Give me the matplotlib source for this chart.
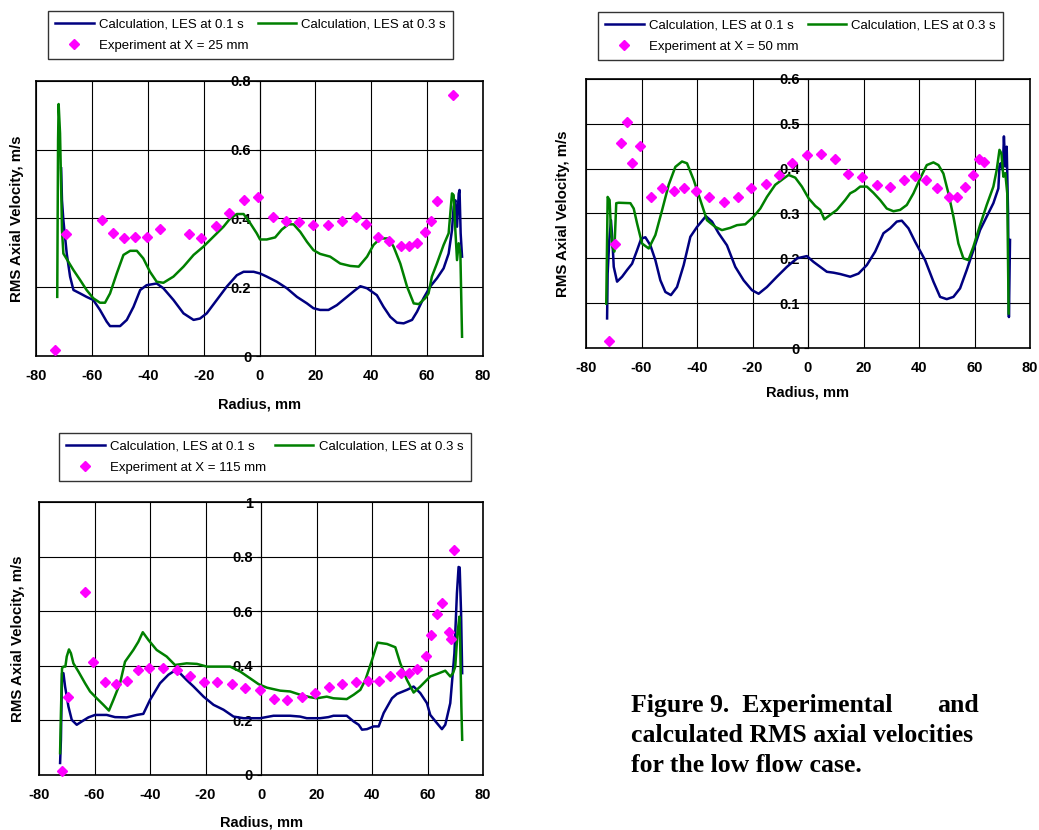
import numpy as np
import matplotlib

matplotlib.use("Agg")
import matplotlib.pyplot as plt
from matplotlib.lines import Line2D

plt.rcParams["font.family"] = ["Liberation Sans", "DejaVu Sans"]
plt.rcParams["axes.unicode_minus"] = False

# ---- X = 25 mm ----
exp25_r = [-73.2, -69.4, -56.5, -52.3, -48.4, -44.5, -40.4, -35.5, -25.4, -20.8,
           -15.4, -10.9, -5.4, -0.6, 4.8, 9.4, 14.2, 19.3, 24.4, 29.5, 34.4, 38.2,
           42.4, 46.3, 50.5, 53.5, 56.4, 59.2, 61.3, 63.5, 69.3]
exp25_v = [0.017, 0.354, 0.397, 0.359, 0.343, 0.347, 0.347, 0.369, 0.354, 0.343,
           0.377, 0.415, 0.455, 0.463, 0.404, 0.393, 0.390, 0.380, 0.380, 0.393,
           0.404, 0.385, 0.346, 0.334, 0.320, 0.320, 0.330, 0.362, 0.393, 0.451, 0.758]
les1_25_r = [-71.0, -70.7, -70.2, -69.0, -67.8, -66.6, -64.2, -61.9, -59.5, -57.1,
             -54.7, -53.5, -49.9, -47.5, -45.1, -42.7, -40.4, -36.8, -34.4, -30.8,
             -27.2, -23.6, -21.3, -18.9, -15.3, -11.7, -8.1, -5.7, -2.1, 0.2, 2.6,
             6.2, 9.8, 13.4, 17.0, 19.3, 21.7, 24.7, 27.7, 31.3, 34.3, 36.1, 38.5,
             42.0, 44.4, 46.8, 49.2, 51.6, 54.6, 56.4, 58.7, 61.1, 63.5, 65.9, 67.7,
             68.9, 69.5, 70.1, 70.7, 71.3, 71.6, 72.0, 72.5]
les1_25_v = [0.546, 0.453, 0.395, 0.298, 0.231, 0.192, 0.182, 0.172, 0.163, 0.134,
             0.100, 0.087, 0.087, 0.105, 0.143, 0.192, 0.206, 0.211, 0.197, 0.163,
             0.124, 0.105, 0.109, 0.124, 0.163, 0.202, 0.235, 0.245, 0.245, 0.240,
             0.231, 0.216, 0.197, 0.172, 0.153, 0.139, 0.134, 0.134, 0.148, 0.172,
             0.192, 0.203, 0.197, 0.177, 0.143, 0.114, 0.097, 0.095, 0.105, 0.129,
             0.168, 0.202, 0.226, 0.255, 0.298, 0.366, 0.434, 0.453, 0.376, 0.472,
             0.483, 0.357, 0.289]
les3_25_r = [-72.4, -72.1, -71.9, -71.4, -70.9, -70.7, -70.2, -66.6, -64.2, -61.9,
             -59.5, -57.1, -55.3, -53.5, -51.1, -48.7, -46.3, -43.9, -41.6, -39.2,
             -36.8, -34.4, -30.8, -27.2, -23.6, -20.1, -16.5, -12.9, -10.5, -8.1,
             -5.7, -3.3, -1.0, 0.2, 2.6, 5.6, 8.0, 10.4, 12.2, 14.6, 17.0, 19.3,
             21.7, 25.3, 28.9, 32.5, 35.5, 38.5, 40.8, 43.2, 46.2, 48.0, 50.4, 52.8,
             55.2, 57.0, 59.3, 60.5, 61.7, 63.5, 65.9, 67.7, 68.9, 69.5, 70.1, 70.7,
             71.3, 71.9, 72.5]
les3_25_v = [0.172, 0.628, 0.733, 0.648, 0.453, 0.366, 0.298, 0.250, 0.221, 0.192,
             0.168, 0.155, 0.155, 0.182, 0.240, 0.294, 0.306, 0.306, 0.284, 0.245,
             0.216, 0.213, 0.231, 0.260, 0.294, 0.318, 0.347, 0.376, 0.400, 0.413,
             0.413, 0.386, 0.357, 0.339, 0.339, 0.345, 0.368, 0.383, 0.383, 0.361,
             0.332, 0.308, 0.297, 0.289, 0.269, 0.262, 0.260, 0.289, 0.323, 0.342,
             0.342, 0.318, 0.269, 0.202, 0.153, 0.151, 0.168, 0.182, 0.231, 0.269,
             0.323, 0.357, 0.473, 0.468, 0.366, 0.279, 0.328, 0.298, 0.056]

# ---- X = 50 mm ----
exp50_r = [-71.6, -69.7, -67.3, -65.4, -63.4, -60.6, -56.4, -52.6, -48.4, -44.6,
           -40.4, -35.6, -30.4, -25.3, -20.5, -15.3, -10.6, -5.6, -0.3, 4.6, 9.7,
           14.3, 19.5, 24.8, 29.6, 34.6, 38.6, 42.7, 46.4, 50.7, 53.7, 56.4, 59.6,
           61.8, 63.6]
exp50_v = [0.015, 0.231, 0.457, 0.503, 0.413, 0.451, 0.336, 0.357, 0.351, 0.357,
           0.351, 0.336, 0.325, 0.336, 0.357, 0.366, 0.386, 0.413, 0.431, 0.433,
           0.422, 0.389, 0.381, 0.363, 0.360, 0.374, 0.383, 0.374, 0.357, 0.336,
           0.336, 0.360, 0.386, 0.422, 0.415]
les1_50_r = [-72.4, -72.2, -71.6, -71.0, -70.5, -70.0, -68.8, -67.0, -65.2, -63.4,
             -61.6, -60.1, -58.6, -56.8, -55.0, -53.2, -51.4, -49.4, -47.2, -44.8,
             -42.4, -40.0, -36.8, -34.6, -32.2, -29.2, -26.2, -23.2, -20.2, -17.8,
             -14.8, -11.2, -7.6, -4.0, -0.4, 2.0, 4.4, 6.8, 9.2, 11.6, 15.2, 18.2,
             21.2, 24.2, 27.2, 29.6, 32.0, 33.8, 36.2, 38.6, 42.2, 45.2, 47.6, 50.0,
             52.4, 54.8, 57.2, 59.6, 62.0, 64.4, 66.8, 68.6, 69.0, 69.4, 70.2, 70.6,
             71.1, 71.6, 72.1, 72.4, 72.8]
les1_50_v = [0.066, 0.166, 0.241, 0.285, 0.241, 0.181, 0.148, 0.159, 0.174, 0.188,
             0.218, 0.244, 0.247, 0.229, 0.196, 0.151, 0.125, 0.118, 0.136, 0.185,
             0.248, 0.270, 0.294, 0.282, 0.256, 0.229, 0.181, 0.151, 0.129, 0.121,
             0.136, 0.159, 0.181, 0.200, 0.205, 0.192, 0.181, 0.170, 0.168, 0.165,
             0.159, 0.166, 0.185, 0.215, 0.256, 0.267, 0.282, 0.284, 0.267, 0.237,
             0.196, 0.148, 0.114, 0.109, 0.114, 0.133, 0.174, 0.218, 0.263, 0.293,
             0.323, 0.356, 0.405, 0.412, 0.397, 0.472, 0.405, 0.449, 0.300, 0.069,
             0.241]
les3_50_r = [-72.7, -72.2, -71.5, -71.0, -70.5, -69.8, -69.1, -68.2, -64.0, -62.8,
             -61.6, -59.8, -57.4, -55.0, -52.6, -50.2, -47.8, -45.4, -43.6, -41.2,
             -38.8, -36.4, -33.4, -31.0, -28.0, -25.6, -22.6, -19.6, -17.2, -14.8,
             -11.8, -8.8, -7.0, -4.6, -2.2, 0.2, 2.6, 4.4, 5.9, 8.0, 10.4, 13.4,
             15.2, 17.0, 18.8, 21.2, 23.6, 26.0, 28.4, 30.8, 33.2, 35.6, 38.0, 40.4,
             42.8, 45.2, 47.0, 48.8, 50.6, 52.4, 54.2, 56.0, 57.8, 59.6, 62.0, 64.4,
             66.8, 68.0, 69.0, 69.7, 70.4, 71.1, 71.8, 72.3]
les3_50_v = [0.099, 0.337, 0.330, 0.263, 0.226, 0.215, 0.323, 0.324, 0.323, 0.311,
             0.278, 0.233, 0.222, 0.252, 0.307, 0.364, 0.404, 0.416, 0.412, 0.375,
             0.330, 0.285, 0.270, 0.263, 0.268, 0.274, 0.276, 0.293, 0.311, 0.337,
             0.364, 0.378, 0.386, 0.380, 0.360, 0.334, 0.317, 0.308, 0.287, 0.297,
             0.308, 0.330, 0.345, 0.351, 0.360, 0.360, 0.346, 0.330, 0.311, 0.305,
             0.308, 0.319, 0.345, 0.378, 0.408, 0.414, 0.408, 0.389, 0.345, 0.293,
             0.233, 0.200, 0.196, 0.226, 0.274, 0.319, 0.360, 0.397, 0.442, 0.434,
             0.382, 0.390, 0.345, 0.077]

# ---- X = 115 mm ----
exp115_r = [-71.6, -69.7, -63.3, -60.4, -56.2, -52.4, -48.4, -44.5, -40.2, -35.4,
            -30.4, -25.5, -20.4, -15.7, -10.5, -5.7, -0.5, 4.6, 9.3, 14.7, 19.3,
            24.5, 29.1, 34.3, 38.4, 42.5, 46.6, 50.4, 53.5, 56.2, 59.3, 61.4, 63.3,
            65.3, 67.7, 68.5, 69.4]
exp115_v = [0.016, 0.287, 0.670, 0.413, 0.340, 0.334, 0.346, 0.385, 0.393, 0.393,
            0.385, 0.361, 0.340, 0.340, 0.334, 0.320, 0.312, 0.278, 0.273, 0.285,
            0.302, 0.322, 0.334, 0.340, 0.346, 0.346, 0.364, 0.373, 0.373, 0.389,
            0.436, 0.512, 0.590, 0.629, 0.523, 0.498, 0.823]
les1_115_r = [-72.4, -72.1, -71.7, -71.2, -70.6, -69.4, -68.2, -66.4, -64.6, -62.2,
              -59.8, -55.6, -52.6, -48.4, -44.8, -42.4, -40.0, -36.4, -33.4, -31.6,
              -29.2, -26.8, -24.3, -20.7, -17.1, -13.5, -9.9, -6.3, -0.3, 4.5, 10.5,
              14.1, 16.5, 21.3, 24.3, 26.1, 30.9, 33.4, 35.2, 36.4, 38.2, 40.6, 42.4,
              44.2, 47.2, 49.0, 52.6, 55.0, 57.4, 59.8, 61.0, 63.4, 65.2, 66.4, 68.2,
              68.8, 69.7, 70.6, 71.2, 71.6, 72.1, 72.5]
les1_115_v = [0.044, 0.129, 0.373, 0.373, 0.324, 0.251, 0.202, 0.184, 0.196, 0.211,
              0.220, 0.220, 0.212, 0.211, 0.220, 0.224, 0.275, 0.336, 0.367, 0.379,
              0.373, 0.348, 0.324, 0.287, 0.257, 0.239, 0.214, 0.208, 0.208, 0.217,
              0.217, 0.214, 0.208, 0.208, 0.212, 0.217, 0.217, 0.196, 0.184, 0.166,
              0.168, 0.178, 0.178, 0.227, 0.281, 0.297, 0.312, 0.324, 0.300, 0.263,
              0.220, 0.190, 0.168, 0.184, 0.263, 0.336, 0.446, 0.665, 0.762, 0.760,
              0.592, 0.373]
les3_115_r = [-72.4, -72.1, -71.7, -71.2, -70.5, -70.0, -69.2, -68.5, -67.6, -65.8,
              -63.4, -61.6, -59.2, -56.8, -54.8, -53.2, -50.8, -49.0, -46.0, -44.2,
              -42.6, -40.6, -37.6, -34.0, -31.0, -26.8, -23.1, -19.5, -11.1, -7.5,
              -3.9, -0.9, 2.1, 6.9, 10.5, 14.1, 17.7, 20.1, 23.7, 26.1, 30.9, 33.4,
              35.8, 37.6, 40.0, 42.0, 45.4, 48.4, 50.2, 52.6, 55.0, 57.4, 61.0, 63.4,
              66.4, 68.2, 69.2, 70.0, 70.8, 71.5, 71.8, 72.2, 72.5]
les3_115_v = [0.080, 0.227, 0.391, 0.397, 0.397, 0.434, 0.460, 0.446, 0.409, 0.379,
              0.336, 0.306, 0.281, 0.257, 0.236, 0.275, 0.336, 0.415, 0.458, 0.488,
              0.523, 0.495, 0.458, 0.434, 0.403, 0.409, 0.407, 0.397, 0.397, 0.379,
              0.354, 0.333, 0.320, 0.309, 0.306, 0.294, 0.285, 0.281, 0.287, 0.281,
              0.278, 0.294, 0.312, 0.348, 0.421, 0.485, 0.480, 0.468, 0.409, 0.348,
              0.302, 0.324, 0.361, 0.370, 0.382, 0.361, 0.373, 0.397, 0.519, 0.580,
              0.470, 0.251, 0.129]

x_ticks = [-80, -60, -40, -20, 0, 20, 40, 60, 80]

BLUE = "#000080"
GREEN = "#008000"
MAGENTA = "#ff00ff"
W, H = 1039, 830


def panel(fig, rect, exp_r, exp_v, r1, v1, r3, v3, ymax, ystep, ylabels,
          station, leg_box, ylab_x, xlab_y):
    ax = fig.add_axes(rect)
    ax.plot(r1, v1, color=BLUE, lw=1.8, zorder=3)
    ax.plot(r3, v3, color=GREEN, lw=1.8, zorder=3)
    ax.plot(exp_r, exp_v, ls="none", marker="D", ms=5, color=MAGENTA,
            mec=MAGENTA, zorder=4, clip_on=False)
    ax.set_xlim(-80, 80)
    ax.set_ylim(0, ymax)
    yt = np.arange(0, ymax + ystep / 2, ystep)
    ax.set_xticks(x_ticks)
    ax.set_yticks(yt)
    ax.grid(True, color="black", lw=0.8)
    ax.tick_params(axis="x", length=0, pad=9, labelsize=10.5)
    ax.tick_params(axis="y", left=False, labelleft=False)
    for lab in ax.get_xticklabels():
        lab.set_fontweight("bold")
    for s in ax.spines.values():
        s.set_linewidth(1.2)
    # value axis crossing at radius 0, Excel style
    sec = ax.secondary_yaxis(0.5)
    sec.set_yticks(yt)
    sec.set_yticklabels(ylabels, fontweight="bold", fontsize=10.5)
    sec.tick_params(axis="y", left=True, labelleft=True, right=False,
                    labelright=False, length=3, pad=3, width=0.8)
    ax.set_ylabel("RMS Axial Velocity, m/s", fontweight="bold", fontsize=10.8)
    ax.yaxis.set_label_coords(ylab_x, 0.5)
    ax.set_xlabel("Radius, mm", fontweight="bold", fontsize=10.5)
    ax.xaxis.set_label_coords(0.5, xlab_y)

    handles = [
        Line2D([], [], color=BLUE, lw=1.8),
        Line2D([], [], ls="none", marker="D", ms=5, color=MAGENTA),
        Line2D([], [], color=GREEN, lw=1.8),
    ]
    labels = [
        "Calculation, LES at 0.1 s",
        f"Experiment at X = {station} mm",
        "Calculation, LES at 0.3 s",
    ]
    leg = fig.legend(handles, labels, ncol=2, loc="upper left",
                     bbox_to_anchor=(leg_box[0] / W, 1 - leg_box[1] / H),
                     borderaxespad=0, fontsize=9.5, frameon=True, fancybox=False,
                     edgecolor="black", handlelength=2.9, columnspacing=0.7,
                     handletextpad=0.4, borderpad=0.55, labelspacing=0.7)
    leg.get_frame().set_linewidth(1.0)
    return ax


fig = plt.figure(figsize=(W / 100, H / 100), dpi=100)

panel(fig, [36 / W, 1 - 356 / H, 447 / W, 275 / H],
      exp25_r, exp25_v, les1_25_r, les1_25_v, les3_25_r, les3_25_v,
      0.8, 0.2, ["0", "0.2", "0.4", "0.6", "0.8"], 25, (48, 11), -0.027, -0.15)

panel(fig, [586 / W, 1 - 348 / H, 444 / W, 269 / H],
      exp50_r, exp50_v, les1_50_r, les1_50_v, les3_50_r, les3_50_v,
      0.6, 0.1, ["0", "0.1", "0.2", "0.3", "0.4", "0.5", "0.6"], 50, (598, 12),
      -0.036, -0.14)

panel(fig, [39 / W, 1 - 775 / H, 444 / W, 273 / H],
      exp115_r, exp115_v, les1_115_r, les1_115_v, les3_115_r, les3_115_v,
      1.0, 0.2, ["0", "0.2", "0.4", "0.6", "0.8", "1"], 115, (59, 433),
      -0.032, -0.15)

cap = dict(family=["Liberation Serif", "DejaVu Serif"], fontweight="bold",
           fontsize=18.5, va="center")
fig.text(631 / W, 1 - 705 / H, "Figure 9.  Experimental", ha="left", **cap)
fig.text(979 / W, 1 - 705 / H, "and", ha="right", **cap)
fig.text(631 / W, 1 - 735 / H, "calculated RMS axial velocities", ha="left", **cap)
fig.text(631 / W, 1 - 765 / H, "for the low flow case.", ha="left", **cap)

fig.savefig("out.png", dpi=100)
